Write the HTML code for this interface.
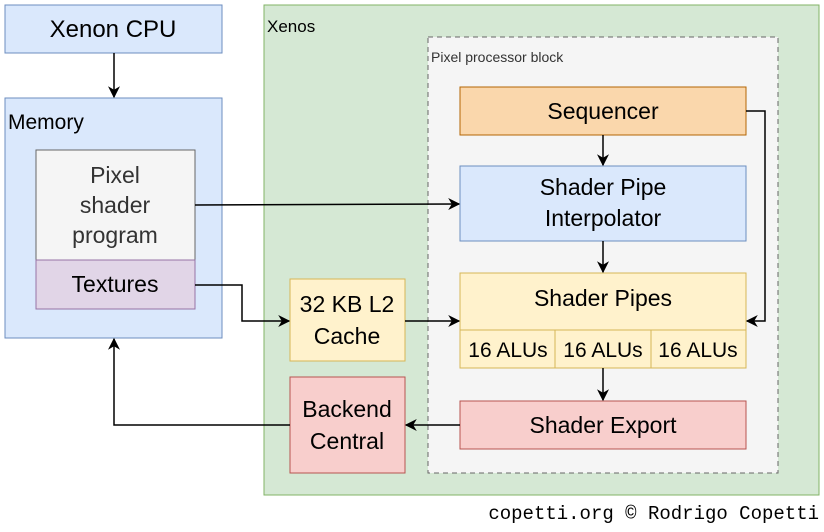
<!DOCTYPE html>
<html><head><meta charset="utf-8"><style>
body{margin:0;background:#fff;}
svg text{font-family:"Liberation Sans",Helvetica,Arial,sans-serif;}
</style></head><body>
<svg width="824" height="527" viewBox="0 0 824 527" xmlns="http://www.w3.org/2000/svg">
<defs><marker id="a" viewBox="0 0 10 10" refX="9" refY="5" markerWidth="12" markerHeight="12" markerUnits="userSpaceOnUse" orient="auto"><path d="M0,0 L10,5 L0,10 L3,5 z" fill="#000"/></marker></defs>
<rect x="5" y="5" width="217" height="48" fill="#dae8fc" stroke="#6c8ebf"/>
<text x="113" y="37" font-size="24" text-anchor="middle">Xenon CPU</text>
<rect x="5" y="98" width="217" height="240" fill="#dae8fc" stroke="#6c8ebf"/>
<text x="8" y="129" font-size="21">Memory</text>
<rect x="36" y="150" width="159" height="110" fill="#f5f5f5" stroke="#666"/>
<text font-size="23" fill="#333" text-anchor="middle"><tspan x="115" y="183">Pixel</tspan><tspan x="115" y="213">shader</tspan><tspan x="115" y="243">program</tspan></text>
<rect x="36" y="260" width="159" height="49" fill="#e1d5e7" stroke="#9673a6"/>
<text x="115" y="292" font-size="23" text-anchor="middle">Textures</text>
<rect x="264" y="5" width="555" height="490" fill="#d5e8d4" stroke="#82b366"/>
<text x="267" y="32" font-size="17">Xenos</text>
<rect x="428" y="37" width="350" height="436" fill="#f5f5f5" stroke="#666" stroke-dasharray="5,4"/>
<text x="431" y="62" font-size="14" fill="#333">Pixel processor block</text>
<rect x="460" y="87" width="286" height="48" fill="#fad7ac" stroke="#b46504"/>
<text x="603" y="119" font-size="23" text-anchor="middle">Sequencer</text>
<rect x="460" y="166" width="286" height="75" fill="#dae8fc" stroke="#6c8ebf"/>
<text font-size="23" text-anchor="middle"><tspan x="603" y="195">Shader Pipe</tspan><tspan x="603" y="226">Interpolator</tspan></text>
<rect x="460" y="273" width="286" height="95" fill="#fff2cc" stroke="#d6b656"/>
<text x="603" y="306" font-size="23" text-anchor="middle">Shader Pipes</text>
<line x1="460" y1="330" x2="746" y2="330" stroke="#d6b656"/>
<line x1="555" y1="330" x2="555" y2="368" stroke="#d6b656"/>
<line x1="651" y1="330" x2="651" y2="368" stroke="#d6b656"/>
<text font-size="21" text-anchor="middle"><tspan x="508" y="357">16 ALUs</tspan><tspan x="603" y="357">16 ALUs</tspan><tspan x="698" y="357">16 ALUs</tspan></text>
<rect x="290" y="279" width="115" height="82" fill="#fff2cc" stroke="#d6b656"/>
<text font-size="23" text-anchor="middle"><tspan x="347" y="312">32 KB L2</tspan><tspan x="347" y="344">Cache</tspan></text>
<rect x="290" y="377" width="115" height="96" fill="#f8cecc" stroke="#b85450"/>
<text font-size="23" text-anchor="middle"><tspan x="347" y="417">Backend</tspan><tspan x="347" y="449">Central</tspan></text>
<rect x="460" y="401" width="286" height="48" fill="#f8cecc" stroke="#b85450"/>
<text x="603" y="433" font-size="23" text-anchor="middle">Shader Export</text>
<g stroke="#000" stroke-width="1.5" fill="none" marker-end="url(#a)">
<path d="M114,53 V97"/>
<path d="M195,205 L459,204"/>
<path d="M195,285 H242 V321 H289"/>
<path d="M405,321 H459"/>
<path d="M603,135 V165"/>
<path d="M603,241 V272"/>
<path d="M746,111 H765 V321 H747"/>
<path d="M603,368 V400"/>
<path d="M460,425 H406"/>
<path d="M290,425 H114 V339"/>
</g>
<text x="819" y="519" font-size="19" text-anchor="end" style="font-family:'Liberation Mono',monospace">copetti.org © Rodrigo Copetti</text>
</svg>
</body></html>
